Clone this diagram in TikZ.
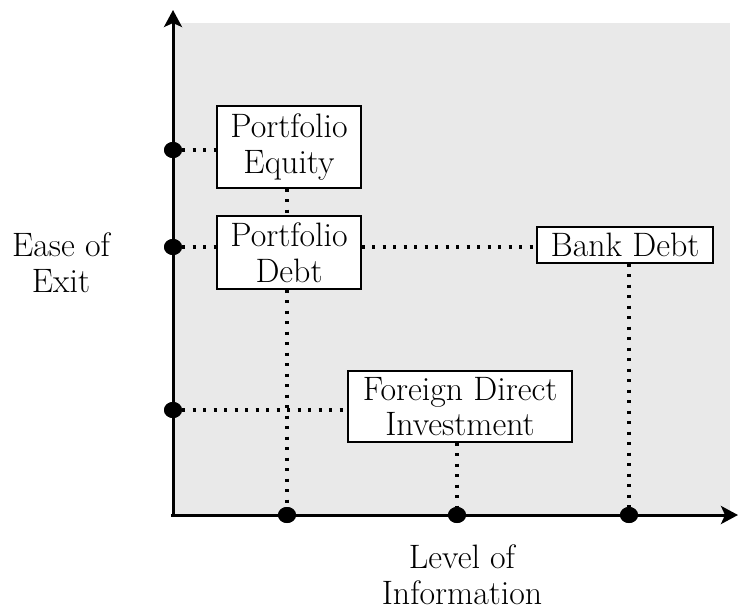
\documentclass[tikz,border=0pt]{standalone}
\usetikzlibrary{arrows.meta,shapes.geometric}
\definecolor{bggray}{HTML}{E9E9E9}
\begin{document}
\begin{tikzpicture}[x=1bp,y=-1bp,
  every node/.style={font=\fontsize{34}{36}\selectfont},
  axisline/.style={line width=3bp,-{Stealth[length=17bp,width=18bp,inset=4bp]}},
  dotmark/.style={ellipse,fill=black,inner sep=0pt,minimum width=18bp,minimum height=16bp},
  dotline/.style={line width=3.2bp,dash pattern=on 3.2bp off 7.3bp},
  box/.style={draw,line width=1.2bp,fill=white,align=center,inner sep=0pt},
  lbl/.style={align=center,inner sep=0pt}]
\useasboundingbox (0,0) rectangle (738,612);
\fill[bggray] (175,23) rectangle (730,515);
% dots
\node[dotmark] (y1) at (173,150) {};
\node[dotmark] (y2) at (173,247) {};
\node[dotmark] (y3) at (173,410) {};
\node[dotmark] (x1) at (287,515) {};
\node[dotmark] (x2) at (457,515) {};
\node[dotmark] (x3) at (629,515) {};
% boxes
\node[box,minimum width=144bp,minimum height=82bp] (pe) at (289,147) {Portfolio\\Equity};
\node[box,minimum width=144bp,minimum height=73bp] (pd) at (289,252.5) {Portfolio\\Debt};
\node[box,minimum width=224bp,minimum height=71bp] (fdi) at (460,406.5) {Foreign Direct\\Investment};
\node[box,minimum width=176bp,minimum height=36bp] (bd) at (625,245) {Bank Debt};
% dotted connectors
\draw[dotline] (y1) -- (y1 -| pe.west);
\draw[dotline] (y2) -- (y2 -| pd.west);
\draw[dotline] (y2 -| pd.east) -- (y2 -| bd.west);
\draw[dotline] (y3) -- (y3 -| fdi.west);
\draw[dotline] (pe.south -| x1) -- (pd.north -| x1);
\draw[dotline] (pd.south -| x1) -- (x1);
\draw[dotline] (fdi.south -| x2) -- (x2);
\draw[dotline] (bd.south -| x3) -- (x3);
% axes
\coordinate (ytop) at (173,10);
\coordinate (xend) at (738,515);
\draw[axisline] (173,517) -- (ytop);
\draw[axisline] (171,515) -- (xend);
\node[dotmark] at (x1) {};
\node[dotmark] at (x2) {};
\node[dotmark] at (x3) {};
\node[dotmark] at (y1) {};
\node[dotmark] at (y2) {};
\node[dotmark] at (y3) {};
% labels
\node[lbl] (ylab) at (61,263) {Ease of\\Exit};
\node[lbl] (xlab) at (462,575) {Level of\\Information};
\end{tikzpicture}
\end{document}
